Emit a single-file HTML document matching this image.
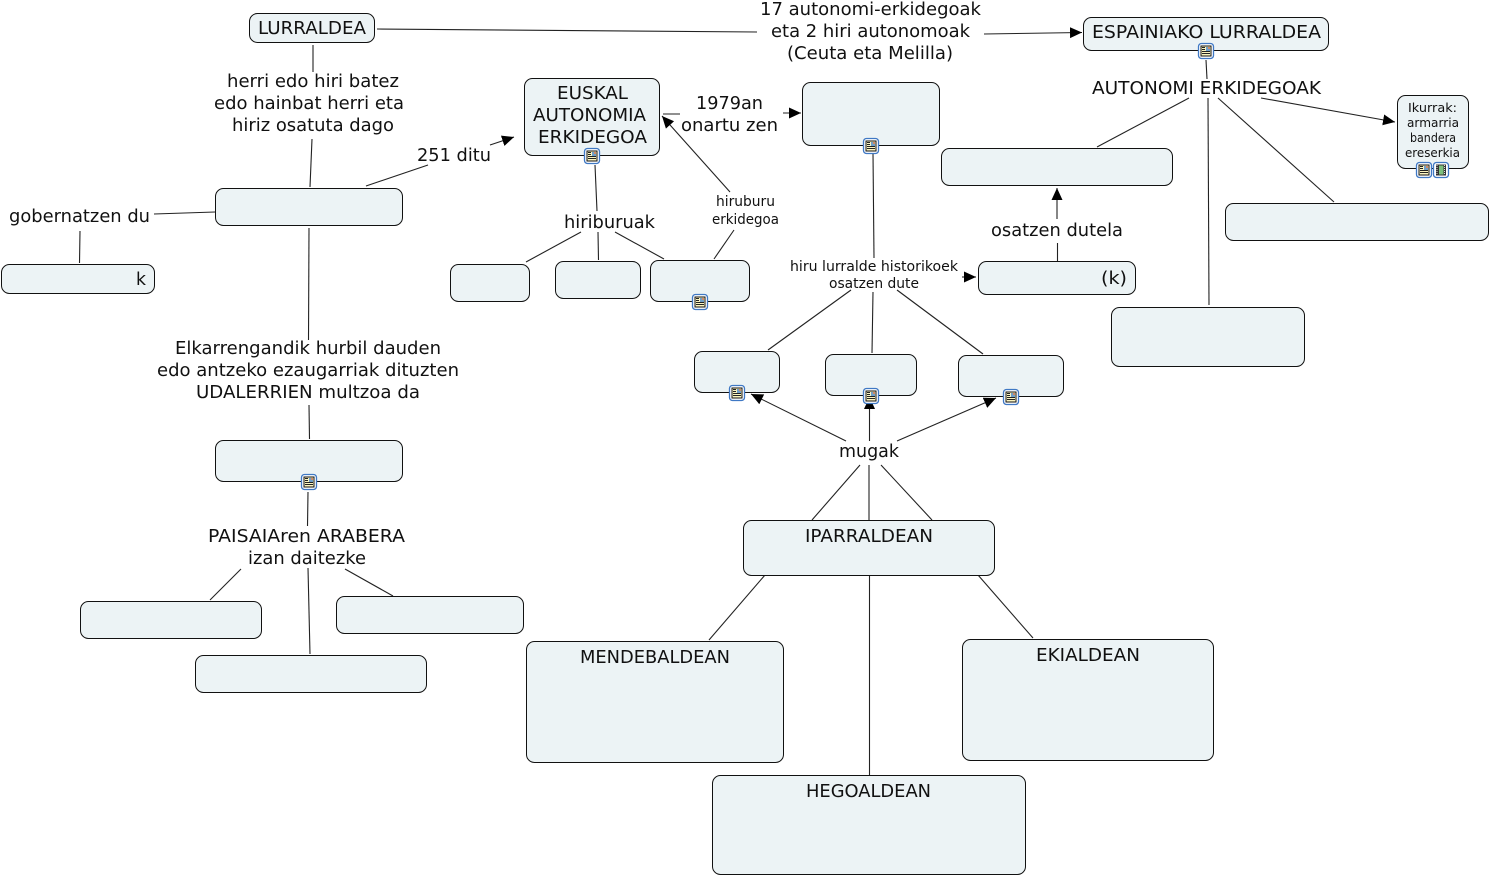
<!DOCTYPE html>
<html><head><meta charset="utf-8"><style>
html,body{margin:0;padding:0;background:#fff}
svg{display:block}
text{font-family:"DejaVu Sans","Liberation Sans",sans-serif;font-size:18px;fill:#111}
text.s{font-size:14px}
text.t{font-size:12px}
rect.n{fill:#ecf3f5;stroke:#111;stroke-width:1}
line{stroke:#222;stroke-width:1.1}
line.a{marker-end:url(#ah)}
</style></head><body>
<svg width="1490" height="876" viewBox="0 0 1490 876" xmlns="http://www.w3.org/2000/svg">
<defs>
<marker id="ah" markerUnits="userSpaceOnUse" markerWidth="14" markerHeight="12" refX="12" refY="5.5" orient="auto"><path d="M0 0L12 5.5L0 11Z" fill="#000"/></marker>
<g id="doc"><rect x="-7.500" y="-7.500" width="15" height="15" rx="3" fill="#fff" stroke="#3f78c4" stroke-width="1.300"/><rect x="-5" y="-5" width="10" height="10" fill="#fbf5c0" stroke="#111" stroke-width="1"/><rect x="0" y="-4" width="4" height="4" fill="#6f9fc8"/><rect x="2" y="-4" width="2" height="2" fill="#d08a6a"/><path d="M-4-3.500H-1M-4-1.500H-1M-4 .5H4M-4 2.500H4" stroke="#222" stroke-width="1"/></g>
<g id="film"><rect x="-7.500" y="-7.500" width="15" height="15" rx="3" fill="#fff" stroke="#3f78c4" stroke-width="1.300"/><rect x="-5" y="-5.500" width="10" height="11" fill="#333"/><rect x="-2" y="-4.500" width="4.500" height="9" fill="#7cc07c"/><path d="M-4-5V5M3.500-5V5" stroke="#ddd" stroke-width="1" stroke-dasharray="1 1"/></g>
</defs>

<line x1="377" y1="29" x2="757" y2="32"/>
<line class="a" x1="984" y1="34" x2="1082" y2="32.500"/>
<line x1="313" y1="45" x2="313" y2="72"/>
<line x1="312" y1="139" x2="310" y2="187"/>
<line x1="366" y1="186" x2="428" y2="165"/>
<line class="a" x1="490" y1="145" x2="514" y2="137"/>
<line x1="215" y1="212" x2="154" y2="214"/>
<line x1="80" y1="231" x2="79.500" y2="263"/>
<line x1="309" y1="228" x2="308.500" y2="340"/>
<line x1="309" y1="405" x2="309.500" y2="439"/>
<line x1="308" y1="492" x2="307.500" y2="526"/>
<line x1="241" y1="569" x2="210" y2="600"/>
<line x1="345" y1="569" x2="393" y2="596"/>
<line x1="308" y1="568" x2="310" y2="654"/>
<line x1="663" y1="114" x2="680" y2="114"/>
<line class="a" x1="783" y1="113" x2="801" y2="113"/>
<line x1="595" y1="165" x2="597" y2="211"/>
<line x1="581" y1="232" x2="526" y2="262"/>
<line x1="598" y1="232" x2="598.500" y2="260"/>
<line x1="615" y1="232" x2="664" y2="259"/>
<line x1="714" y1="259" x2="734" y2="230"/>
<line class="a" x1="730" y1="192" x2="662" y2="116"/>
<line x1="873" y1="153" x2="874" y2="258"/>
<line x1="768" y1="350" x2="851" y2="290"/>
<line x1="873" y1="292" x2="872" y2="353"/>
<line x1="897" y1="290" x2="983" y2="354"/>
<line x1="1057.500" y1="261" x2="1057.500" y2="243"/>
<line class="a" x1="1057" y1="219" x2="1057" y2="188"/>
<line class="a" x1="962" y1="277" x2="976" y2="277"/>
<line x1="1206" y1="60" x2="1207" y2="79"/>
<line x1="1189" y1="98" x2="1097" y2="147"/>
<line x1="1208" y1="98" x2="1209" y2="305"/>
<line x1="1218" y1="98" x2="1334" y2="202"/>
<line class="a" x1="1261" y1="98" x2="1395" y2="122"/>
<line class="a" x1="846" y1="441" x2="751" y2="394"/>
<line class="a" x1="869.500" y1="441" x2="869.500" y2="397"/>
<line class="a" x1="897" y1="441" x2="996" y2="398"/>
<line x1="812" y1="520" x2="860" y2="465"/>
<line x1="869" y1="520" x2="869" y2="465"/>
<line x1="932" y1="520" x2="881" y2="465"/>
<line x1="765" y1="575" x2="709" y2="640"/>
<line x1="869.500" y1="575" x2="869.500" y2="775"/>
<line x1="978" y1="575" x2="1033" y2="638"/>

<rect class="n" x="249.500" y="13.500" width="125" height="29" rx="8"/>
<rect class="n" x="1083.500" y="17.500" width="245" height="33" rx="8"/>
<rect class="n" x="524.500" y="78.500" width="135" height="77" rx="8"/>
<rect class="n" x="802.500" y="82.500" width="137" height="63" rx="8"/>
<rect class="n" x="1397.500" y="95.500" width="71" height="73" rx="8"/>
<rect class="n" x="941.500" y="148.500" width="231" height="37" rx="8"/>
<rect class="n" x="1225.500" y="203.500" width="263" height="37" rx="8"/>
<rect class="n" x="215.500" y="188.500" width="187" height="37" rx="8"/>
<rect class="n" x="1.500" y="264.500" width="153" height="29" rx="8"/>
<rect class="n" x="450.500" y="264.500" width="79" height="37" rx="8"/>
<rect class="n" x="555.500" y="261.500" width="85" height="37" rx="8"/>
<rect class="n" x="650.500" y="260.500" width="99" height="41" rx="8"/>
<rect class="n" x="978.500" y="261.500" width="157" height="33" rx="8"/>
<rect class="n" x="1111.500" y="307.500" width="193" height="59" rx="8"/>
<rect class="n" x="694.500" y="351.500" width="85" height="41" rx="8"/>
<rect class="n" x="825.500" y="354.500" width="91" height="41" rx="8"/>
<rect class="n" x="958.500" y="355.500" width="105" height="41" rx="8"/>
<rect class="n" x="215.500" y="440.500" width="187" height="41" rx="8"/>
<rect class="n" x="80.500" y="601.500" width="181" height="37" rx="8"/>
<rect class="n" x="336.500" y="596.500" width="187" height="37" rx="8"/>
<rect class="n" x="195.500" y="655.500" width="231" height="37" rx="8"/>
<rect class="n" x="743.500" y="520.500" width="251" height="55" rx="8"/>
<rect class="n" x="526.500" y="641.500" width="257" height="121" rx="8"/>
<rect class="n" x="962.500" y="639.500" width="251" height="121" rx="8"/>
<rect class="n" x="712.500" y="775.500" width="313" height="99" rx="8"/>

<use href="#doc" x="1206" y="51"/>
<use href="#doc" x="592" y="156"/>
<use href="#doc" x="871" y="146"/>
<use href="#doc" x="1424" y="170"/>
<use href="#film" x="1441" y="170"/>
<use href="#doc" x="700" y="302"/>
<use href="#doc" x="737" y="393"/>
<use href="#doc" x="871" y="396"/>
<use href="#doc" x="1011" y="397"/>
<use href="#doc" x="309" y="482"/>

<text x="258" y="34" textLength="108" lengthAdjust="spacingAndGlyphs">LURRALDEA</text>
<text x="1092" y="38" textLength="229" lengthAdjust="spacingAndGlyphs">ESPAINIAKO LURRALDEA</text>
<text x="760" y="15" textLength="221" lengthAdjust="spacingAndGlyphs">17 autonomi-erkidegoak</text>
<text x="771" y="37" textLength="199" lengthAdjust="spacingAndGlyphs">eta 2 hiri autonomoak</text>
<text x="787" y="59" textLength="166" lengthAdjust="spacingAndGlyphs">(Ceuta eta Melilla)</text>
<text x="227" y="87" textLength="172" lengthAdjust="spacingAndGlyphs">herri edo hiri batez</text>
<text x="214" y="109" textLength="190" lengthAdjust="spacingAndGlyphs">edo hainbat herri eta</text>
<text x="232" y="131" textLength="162" lengthAdjust="spacingAndGlyphs">hiriz osatuta dago</text>
<text x="417" y="161" textLength="74" lengthAdjust="spacingAndGlyphs">251 ditu</text>
<text x="9" y="222" textLength="141" lengthAdjust="spacingAndGlyphs">gobernatzen du</text>
<text x="136" y="285" textLength="10" lengthAdjust="spacingAndGlyphs">k</text>
<text x="557" y="99" textLength="71" lengthAdjust="spacingAndGlyphs">EUSKAL</text>
<text x="533" y="121" textLength="113" lengthAdjust="spacingAndGlyphs">AUTONOMIA</text>
<text x="538" y="143" textLength="109" lengthAdjust="spacingAndGlyphs">ERKIDEGOA</text>
<text x="696" y="109" textLength="67" lengthAdjust="spacingAndGlyphs">1979an</text>
<text x="681" y="131" textLength="97" lengthAdjust="spacingAndGlyphs">onartu zen</text>
<text x="564" y="228" textLength="91" lengthAdjust="spacingAndGlyphs">hiriburuak</text>
<text class="s" x="716" y="206" textLength="59" lengthAdjust="spacingAndGlyphs">hiruburu</text>
<text class="s" x="712" y="224" textLength="67" lengthAdjust="spacingAndGlyphs">erkidegoa</text>
<text x="1092" y="94" textLength="229" lengthAdjust="spacingAndGlyphs">AUTONOMI ERKIDEGOAK</text>
<text class="t" x="1408" y="112" textLength="49" lengthAdjust="spacingAndGlyphs">Ikurrak:</text>
<text class="t" x="1407" y="127" textLength="52" lengthAdjust="spacingAndGlyphs">armarria</text>
<text class="t" x="1410" y="142" textLength="46" lengthAdjust="spacingAndGlyphs">bandera</text>
<text class="t" x="1405" y="157" textLength="55" lengthAdjust="spacingAndGlyphs">ereserkia</text>
<text x="991" y="236" textLength="132" lengthAdjust="spacingAndGlyphs">osatzen dutela</text>
<text x="1101" y="284" textLength="26" lengthAdjust="spacingAndGlyphs">(k)</text>
<text class="s" x="790" y="271" textLength="168" lengthAdjust="spacingAndGlyphs">hiru lurralde historikoek</text>
<text class="s" x="829" y="288" textLength="90" lengthAdjust="spacingAndGlyphs">osatzen dute</text>
<text x="175" y="354" textLength="266" lengthAdjust="spacingAndGlyphs">Elkarrengandik hurbil dauden</text>
<text x="157" y="376" textLength="302" lengthAdjust="spacingAndGlyphs">edo antzeko ezaugarriak dituzten</text>
<text x="196" y="398" textLength="224" lengthAdjust="spacingAndGlyphs">UDALERRIEN multzoa da</text>
<text x="208" y="542" textLength="197" lengthAdjust="spacingAndGlyphs">PAISAIAren ARABERA</text>
<text x="248" y="564" textLength="118" lengthAdjust="spacingAndGlyphs">izan daitezke</text>
<text x="839" y="457" textLength="60" lengthAdjust="spacingAndGlyphs">mugak</text>
<text x="805" y="542" textLength="128" lengthAdjust="spacingAndGlyphs">IPARRALDEAN</text>
<text x="580" y="663" textLength="150" lengthAdjust="spacingAndGlyphs">MENDEBALDEAN</text>
<text x="1036" y="661" textLength="104" lengthAdjust="spacingAndGlyphs">EKIALDEAN</text>
<text x="806" y="797" textLength="125" lengthAdjust="spacingAndGlyphs">HEGOALDEAN</text>
</svg>
</body></html>
